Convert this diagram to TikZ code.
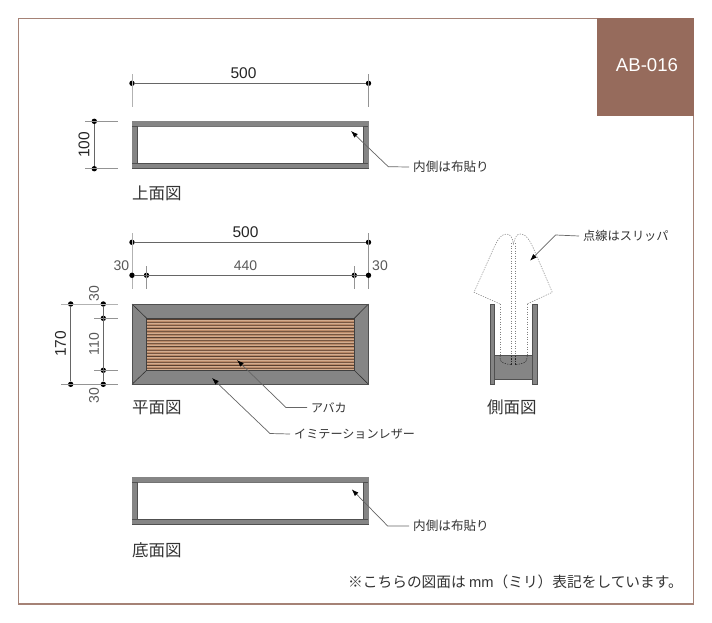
\documentclass[tikz,border=0pt]{standalone}
\usepackage{fontspec}
\setmainfont{Liberation Sans}
\newfontfamily\jpfont{Noto Sans CJK JP}
\usetikzlibrary{arrows.meta}
\definecolor{brownbadge}{HTML}{966B5C}
\definecolor{frameline}{HTML}{A58276}
\definecolor{wall}{HTML}{858585}
\definecolor{walldark}{HTML}{505050}
\definecolor{wood}{HTML}{BB8A68}
\definecolor{woodlight}{HTML}{D2AC8F}
\definecolor{wooddark}{HTML}{5A4030}
\definecolor{dimline}{HTML}{666666}
\definecolor{softtext}{HTML}{333333}
\tikzset{
  x=1pt,y=-1pt,
  dimdot/.style={circle,fill=black,inner sep=0pt,minimum size=5.4pt},
  dimln/.style={draw=dimline,line width=0.7pt},
  extln/.style={draw=dimline!70,line width=0.7pt},
  dimtext/.style={font=\fontsize{15.5}{16}\selectfont,text=black!85,inner sep=0pt},
  dimgray/.style={font=\fontsize{14}{15}\selectfont,text=black!65,inner sep=0pt},
  viewname/.style={font=\jpfont\fontsize{16.5}{17}\selectfont,text=softtext,anchor=west,inner sep=0pt},
  callout/.style={font=\jpfont\fontsize{12.6}{13}\selectfont,text=softtext,anchor=west,inner ysep=0pt,inner xsep=4pt},
  leader/.style={draw=dimline,line width=0.7pt,{Latex[length=7pt,width=5pt,black]}-},
  wallpart/.style={fill=wall,draw=walldark,line width=0.5pt},
  slip/.style={draw=black!50,line width=0.5pt,dash pattern=on 1.3pt off 1.2pt},
  slipdark/.style={draw=black!85,line width=0.5pt,dash pattern=on 1.3pt off 1.2pt},
}
\newcommand{\flatview}[2]{% top y, bottom y
  \fill[wall] (132,#1) rectangle (368.5,#2);
  \fill[white] (137,#1+5.4) rectangle (363.5,#2-5.4);
  \draw[black!55,line width=0.5pt] (137,#1+5.4) -- (363.5,#1+5.4);
  \draw[walldark,line width=0.6pt] (132.3,#1+5.4) -- (136.8,#1+5.4) -- (136.8,#2-5.4) -- (132.3,#2-5.4);
  \draw[walldark,line width=0.6pt] (368.2,#1+5.4) -- (363.7,#1+5.4) -- (363.7,#2-5.4) -- (368.2,#2-5.4);
  \draw[walldark,line width=0.6pt] (137,#2-5.4) -- (363.5,#2-5.4);
  \draw[walldark,line width=0.6pt] (132,#2-0.4) -- (368.5,#2-0.4);
}
\begin{document}
\begin{tikzpicture}
\useasboundingbox (0,0) rectangle (712,622);
\fill[white] (0,0) rectangle (712,622);
\draw[frameline,line width=1.1pt] (18.7,18.3) rectangle (693.3,604);
\fill[brownbadge] (596.7,18) rectangle (694,116);
\node[font=\fontsize{18.6}{19}\selectfont,text=white,inner sep=0pt] (badge) at (647,65.5) {AB-016};

%% top view
\flatview{121.3}{168.7}
\node[dimdot] (t1) at (132,83.3) {};
\node[dimdot] (t2) at (368.5,83.3) {};
\coordinate (t1a) at (132,74); \coordinate (t1b) at (132,107);
\coordinate (t2a) at (368.5,74); \coordinate (t2b) at (368.5,107);
\draw[extln,draw=black!30,line width=1pt] (t1a) -- (t1b);
\draw[extln] (t2a) -- (t2b);
\draw[dimln] (t1) -- (t2);
\node[dimtext] (t500) at (243.5,73) {500};
\node[dimdot] (h1) at (94.3,121.3) {};
\node[dimdot] (h2) at (94.3,168.7) {};
\coordinate (h1a) at (85,121.3); \coordinate (h1b) at (118,121.3);
\coordinate (h2a) at (85,168.7); \coordinate (h2b) at (118,168.7);
\draw[extln] (h1a) -- (h1b);
\draw[extln] (h2a) -- (h2b);
\draw[dimln] (h1) -- (h2);
\node[dimtext,rotate=90] (h100) at (84,145) {100};
\node[viewname] (nTop) at (132,193.5) {上面図};
\node[callout] (cTop) at (409,167) {内側は布貼り};
\coordinate (tipTop) at (351,131);
\coordinate (elTop) at (388.3,166.7);
\draw[leader] (tipTop) -- (elTop) -- (cTop.west);

%% plan view
\fill[wall] (132,304) rectangle (368.5,384.3);
\fill[wood] (146.7,318.3) rectangle (354.3,370.3);
\foreach \i in {0,...,16}{
  \fill[woodlight] (146.7,320.3+\i*3.06) rectangle (354.3,321.2+\i*3.06);
  \draw[wooddark!70!wood,line width=0.6pt] (146.7,319.2+\i*3.06) -- (354.3,319.2+\i*3.06);
}
\foreach \i in {0,3,...,15}{
  \draw[wooddark,line width=0.7pt] (146.7,319.2+\i*3.06) -- (354.3,319.2+\i*3.06);
}
\draw[black!75,line width=0.7pt] (146.7,318.3) rectangle (354.3,370.3);
\draw[black!80,line width=0.6pt] (132,304) -- (146.7,318.3) (368.5,304) -- (354.3,318.3)
  (132,384.3) -- (146.7,370.3) (368.5,384.3) -- (354.3,370.3);
\draw[walldark,line width=0.6pt] (132,304) rectangle (368.5,384.3);
\node[dimdot] (p1) at (132,242.3) {};
\node[dimdot] (p2) at (368.5,242.3) {};
\coordinate (p1a) at (132,233); \coordinate (p1b) at (132,289);
\coordinate (p2a) at (368.5,233); \coordinate (p2b) at (368.5,289);
\draw[extln,draw=black!30,line width=1pt] (p1a) -- (p1b);
\draw[extln] (p2a) -- (p2b);
\draw[dimln] (p1) -- (p2);
\node[dimtext] (p500) at (245.5,232) {500};
\node[dimdot] (q1) at (132,275.3) {};
\node[dimdot] (q2) at (146.5,275.3) {};
\node[dimdot] (q3) at (354.3,275.3) {};
\node[dimdot] (q4) at (368.5,275.3) {};
\coordinate (q2a) at (146.5,266); \coordinate (q2b) at (146.5,289);
\coordinate (q3a) at (354.3,266); \coordinate (q3b) at (354.3,289);
\draw[extln] (q2a) -- (q2b);
\draw[extln] (q3a) -- (q3b);
\draw[dimln] (q1) -- (q4);
\node[dimgray] (p440) at (245.5,266) {440};
\node[dimgray] (p30l) at (121.5,265.5) {30};
\node[dimgray] (p30r) at (380,265.5) {30};
% left dims
\node[dimdot] (a1) at (70.7,304) {};
\node[dimdot] (a2) at (70.7,384.3) {};
\node[dimdot] (b1) at (103.3,304) {};
\node[dimdot] (b2) at (103.3,318.3) {};
\node[dimdot] (b3) at (103.3,370.3) {};
\node[dimdot] (b4) at (103.3,384.3) {};
\coordinate (e1a) at (61,304); \coordinate (e1b) at (118,304);
\coordinate (e4a) at (61,384.3); \coordinate (e4b) at (118,384.3);
\coordinate (e2a) at (94,318.3); \coordinate (e2b) at (118,318.3);
\coordinate (e3a) at (94,370.3); \coordinate (e3b) at (118,370.3);
\draw[extln,draw=black!30,line width=1pt] (e1a) -- (e1b);
\draw[extln] (e4a) -- (e4b);
\draw[extln] (e2a) -- (e2b);
\draw[extln] (e3a) -- (e3b);
\draw[dimln] (a1) -- (a2);
\draw[dimln] (b1) -- (b4);
\node[dimtext,rotate=90] (v170) at (60.5,344) {170};
\node[dimgray,rotate=90] (v30a) at (94,293.5) {30};
\node[dimgray,rotate=90] (v110) at (94,344) {110};
\node[dimgray,rotate=90] (v30b) at (94,395.5) {30};
\node[viewname] (nPlan) at (132,407.5) {平面図};
\node[callout,font=\jpfont\fontsize{12}{13}\selectfont] (cAba) at (307,407.5) {アバカ};
\coordinate (tipAba) at (237,360);
\coordinate (elAba) at (286,407.5);
\draw[leader] (tipAba) -- (elAba) -- (cAba.west);
\node[callout,font=\jpfont\fontsize{12.1}{13}\selectfont] (cLea) at (290,434) {イミテーションレザー};
\coordinate (tipLea) at (212,378);
\coordinate (elLea) at (270,433.5);
\draw[leader] (tipLea) -- (elLea) -- (cLea.west);

%% side view
\fill[wall] (494.7,355.7) rectangle (532.7,379.3);
\draw[walldark,line width=0.7pt] (494.7,355.7) -- (532.7,355.7) (494.7,379.3) -- (532.7,379.3);
\draw[wallpart] (490,304) rectangle (494.7,384.3);
\draw[wallpart] (532.7,304) rectangle (537.3,384.3);
\draw[slip] (500,304) -- (474,292.3) -- (492,252)
  .. controls (497,240) and (501,234) .. (506.5,234)
  .. controls (510.5,234) and (512.5,238) .. (513.5,244)
  .. controls (514.5,238) and (516.5,234) .. (520.5,234)
  .. controls (526,234) and (530,240) .. (535,252)
  -- (552.3,292.3) -- (527,304);
\draw[slip] (500,304) -- (500,355.7) (527,304) -- (527,355.7);
\draw[slip] (511.7,243) -- (511.7,355.7) (515,243) -- (515,355.7);
\draw[slipdark] (500,355.7) -- (500,358) .. controls (500,362) and (503,364) .. (511.5,364.5)
  (527,355.7) -- (527,358) .. controls (527,362) and (524,364) .. (515,364.5);
\draw[slipdark] (511.7,355.7) -- (511.7,364.5) (515,355.7) -- (515,364.5);
\node[viewname] (nSide) at (487,407.5) {側面図};
\node[callout,font=\jpfont\fontsize{12.2}{13}\selectfont] (cSlip) at (579,236) {点線はスリッパ};
\coordinate (tipSlip) at (530,260.7);
\coordinate (elSlip) at (555.7,235);
\draw[leader] (tipSlip) -- (elSlip) -- (cSlip.west);

%% bottom view
\flatview{477.3}{525}
\node[viewname] (nBot) at (132,550) {底面図};
\node[callout] (cBot) at (409,526) {内側は布貼り};
\coordinate (tipBot) at (351.7,489.3);
\coordinate (elBot) at (387.7,526);
\draw[leader] (tipBot) -- (elBot) -- (cBot.west);

\node[font=\jpfont\fontsize{14.7}{15}\selectfont,text=softtext,anchor=east,inner sep=0pt] (note) at (683,582) {※こちらの図面は {\fontspec{Liberation Sans}mm}（ミリ）表記をしています。};
\end{tikzpicture}
\end{document}
